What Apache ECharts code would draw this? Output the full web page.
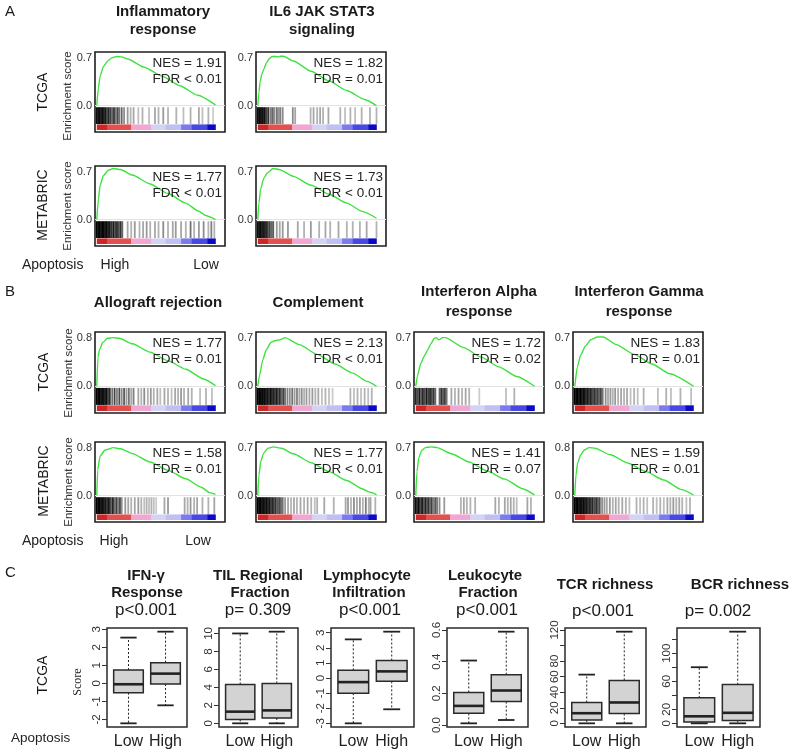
<!DOCTYPE html>
<html><head><meta charset="utf-8">
<script src="https://cdn.jsdelivr.net/npm/echarts@6/dist/echarts.min.js"></script>
<style>html,body{margin:0;padding:0;background:#fff}#c{width:800px;height:756px}</style>
</head><body><div id="c"></div><script>
// ================= DATA =================
// Running enrichment score curves: [rank (% of list), ES]
const ES_A_TCGA_INFLAM = [[0,0],[1.4,0.26],[2.8,0.43],[5.6,0.57],[9.7,0.66],[13,0.7],[16.7,0.715],[21,0.71],[26,0.68],[40,0.56],[55,0.43],[70,0.29],[85,0.15],[100,0.01]];
const ES_A_TCGA_IL6 = [[0,0],[1,0.2],[2,0.35],[3.5,0.46],[5,0.53],[7.5,0.63],[10,0.69],[12,0.715],[15,0.715],[17,0.71],[19,0.72],[21.5,0.72],[30,0.65],[45,0.5],[60,0.36],[75,0.22],[90,0.09],[100,0.0]];
const ES_A_MET_INFLAM = [[0,0],[1.4,0.3],[2.8,0.5],[5.5,0.64],[9.7,0.72],[14,0.745],[20,0.73],[30,0.65],[45,0.52],[60,0.38],[75,0.24],[85,0.13],[92,0.06],[96,0.035],[100,0.0]];
const ES_A_MET_IL6 = [[0,0],[1,0.25],[2.5,0.45],[5,0.6],[8,0.68],[13,0.745],[18,0.73],[30,0.63],[45,0.5],[60,0.37],[75,0.24],[88,0.12],[100,0.02]];
const ES_B_TCGA_ALLO = [[0,0],[1,0.48],[2.3,0.6],[5,0.72],[9,0.79],[13.5,0.8],[19,0.79],[30,0.7],[45,0.56],[60,0.42],[75,0.28],[90,0.12],[100,0.01]];
const ES_B_TCGA_COMP = [[0,0],[1.4,0.15],[4.2,0.38],[7,0.52],[11,0.63],[15,0.66],[19,0.67],[21,0.685],[23,0.7],[35,0.6],[50,0.46],[65,0.32],[80,0.19],[92,0.07],[100,0.0]];
const ES_B_TCGA_IFNA = [[0,0],[1.4,0.15],[4.2,0.33],[7,0.43],[9.9,0.52],[12.7,0.61],[15.5,0.69],[17,0.7],[19.7,0.67],[22.5,0.7],[25,0.7],[40,0.56],[55,0.42],[70,0.28],[85,0.14],[100,0.0]];
const ES_B_TCGA_IFNG = [[0,0],[2.2,0.28],[5,0.45],[9,0.58],[13.5,0.67],[19,0.71],[24,0.71],[35,0.6],[50,0.46],[65,0.32],[80,0.18],[100,0.0]];
const ES_B_MET_ALLO = [[0,0],[0.8,0.43],[2.8,0.66],[7,0.76],[14,0.8],[20,0.78],[30,0.7],[45,0.56],[60,0.42],[75,0.28],[88,0.14],[95,0.05],[100,0.02]];
const ES_B_MET_COMP = [[0,0],[1,0.3],[2.5,0.5],[5,0.62],[8.5,0.69],[13,0.71],[20,0.69],[30,0.61],[45,0.48],[60,0.35],[75,0.22],[88,0.1],[94,0.05],[97,0.04],[100,0.01]];
const ES_B_MET_IFNA = [[0,0],[1,0.35],[2.5,0.55],[5,0.66],[8,0.7],[13,0.71],[18,0.7],[30,0.61],[45,0.49],[60,0.36],[75,0.24],[90,0.1],[100,0.01]];
const ES_B_MET_IFNG = [[0,0],[1,0.35],[2.5,0.55],[5,0.68],[8,0.76],[12,0.8],[17,0.79],[30,0.68],[45,0.54],[60,0.4],[75,0.26],[90,0.1],[100,0.01]];

// Gene-set hits: [rank (%), darkness]
const HITS_A_TCGA_INFLAM = [[0,.95],[1.2,.9],[2.4,.95],[3.6,.85],[4.8,.95],[6,.8],[7.2,.9],[8.6,.7],[10,.85],[11.5,.75],[13,.6],[14.5,.8],[16,.5],[17.5,.7],[19,.55],[21,.6],[23,.45],[26,.4],[28.5,.3],[31,.35],[35,.25],[38.5,.3],[44,.25],[49,.35],[52,.3],[56,.4],[60,.3],[67,.3],[73,.25],[79,.3],[86,.35],[89,.25],[94,.3],[98,.2]];
const HITS_A_TCGA_IL6 = [[0,.95],[1.2,.95],[2.4,.9],[3.6,.95],[4.8,.85],[6,.9],[7.5,.75],[9,.8],[11,.5],[12.5,.6],[14,.45],[16,.55],[17.5,.4],[19,.5],[21,.45],[29.5,.45],[31.5,.35],[44.5,.3],[47,.35],[50,.3],[52.5,.35],[55,.3],[59.5,.35],[69.5,.3],[73.5,.25],[78,.3],[82,.25],[87.5,.3],[94.5,.3],[100,.3]];
const HITS_A_MET_INFLAM = [[0,1],[1.2,.95],[2.4,1],[3.6,.9],[4.8,1],[6,.95],[7.2,.9],[8.4,.95],[9.6,.85],[11,.9],[12.5,.8],[14,.9],[15.5,.75],[17,.85],[18.5,.7],[20,.8],[21.5,.6],[26,.35],[29,.3],[32,.4],[36,.3],[39,.35],[42,.4],[45,.3],[49,.35],[52,.3],[56,.45],[60,.3],[64,.35],[66.5,.4],[71,.35],[75,.3],[79,.55],[82,.3],[86,.4],[90,.45],[94,.3],[96.5,.5],[99,.3]];
const HITS_A_MET_IL6 = [[0,.95],[1.2,.9],[2.4,.95],[3.6,.85],[4.8,.9],[6,.8],[7.2,.85],[8.5,.7],[10,.75],[11.5,.6],[13,.65],[16,.4],[18.5,.35],[21,.4],[25.4,.4],[33.7,.35],[39,.3],[44.7,.4],[51.7,.3],[57,.35],[61,.3],[68,.35],[75,.3],[80,.3],[86,.3],[91.7,.35],[100,.3]];
const HITS_B_TCGA_ALLO = [[0,1],[1.2,.95],[2.4,1],[3.6,.9],[4.8,.95],[6,.9],[7.2,.85],[8.4,.95],[9.8,.7],[11,.8],[13,.55],[15,.75],[17,.5],[19,.7],[21,.45],[23,.65],[25,.4],[27,.55],[29,.35],[31,.5],[35,.35],[37.5,.3],[40,.45],[43,.3],[45.5,.4],[48,.3],[51,.35],[53.5,.25],[57,.35],[60,.3],[63,.25],[66,.35],[68.5,.3],[71,.4],[73.5,.3],[77,.35],[80,.3],[87,.25],[92,.3],[97,.25]];
const HITS_B_TCGA_COMP = [[0,1],[1.2,1],[2.4,.95],[3.6,1],[4.8,.9],[6,.95],[7.2,.85],[8.4,.9],[9.6,.8],[11,.95],[12.2,.75],[13.4,.85],[14.6,.7],[16,.9],[17.3,.65],[18.6,.8],[20,.6],[21.5,.75],[23,.55],[25,.5],[27,.45],[29,.55],[31,.4],[33,.5],[35,.35],[37,.45],[39,.3],[41,.4],[43.5,.35],[46,.4],[48.5,.3],[51,.35],[54,.25],[57,.3],[60,.25],[63,.2],[78,.3],[81,.25],[84,.3],[87,.25],[90,.3],[93,.25],[96,.3]];
const HITS_B_TCGA_IFNA = [[0,.85],[1.5,.7],[3,.9],[4.5,.65],[6,.85],[7.5,.7],[9,.9],[10.5,.75],[12,.85],[13.5,.7],[15,.8],[16.5,.6],[20,.6],[21.5,.8],[23,.65],[24.5,.75],[26,.55],[30,.35],[33,.3],[36,.35],[39,.3],[42,.35],[45,.3],[53.5,.2],[76,.25],[83,.3]];
const HITS_B_TCGA_IFNG = [[0,1],[1.2,.95],[2.4,1],[3.6,.9],[4.8,1],[6,.85],[7.2,.95],[8.4,.9],[9.6,.8],[11,.9],[12.3,.75],[13.6,.85],[15,.7],[16.4,.8],[17.8,.65],[19.2,.75],[20.6,.6],[22,.7],[23.5,.55],[26,.45],[28,.35],[30,.4],[32,.3],[34,.4],[36.5,.3],[39,.35],[41.5,.3],[44,.35],[47,.25],[50,.3],[53,.25],[58,.3],[70,.25],[77,.3],[81,.25],[89,.3],[98,.25]];
const HITS_B_MET_ALLO = [[0,1],[1.2,.95],[2.4,1],[3.6,.9],[4.8,.95],[6,.85],[7.2,.9],[8.4,.7],[9.6,.9],[11,.8],[12.3,.6],[13.6,.85],[15,.55],[16.5,.75],[18,.5],[19.5,.7],[21,.45],[24,.4],[26.5,.35],[29,.3],[32,.35],[35,.4],[37.5,.3],[40,.25],[42,.3],[44,.25],[46,.3],[48,.25],[50,.2],[57,.35],[60,.4],[74,.35],[76.5,.3],[79,.4],[82,.3],[84.5,.35],[89,.3],[94,.3],[99,.35]];
const HITS_B_MET_COMP = [[0,1],[1.2,.95],[2.4,1],[3.6,.9],[4.8,.95],[6,.85],[7.2,.95],[8.4,.8],[9.6,.9],[11,.75],[12.3,.85],[13.6,.7],[15,.8],[16.5,.65],[18,.7],[19.5,.6],[21,.55],[23,.4],[25.5,.35],[28,.3],[30.5,.35],[33,.3],[36,.35],[39,.3],[42,.35],[45,.3],[48,.25],[50,.3],[56,.35],[64,.3],[74,.35],[76,.4],[78.5,.3],[81,.45],[83.5,.35],[86,.4],[88.5,.3],[91,.5],[93.5,.3],[95,.35],[99,.3]];
const HITS_B_MET_IFNA = [[0,.95],[1.3,.8],[2.6,.95],[4,.7],[5.3,.9],[6.6,.65],[8,.85],[9.3,.6],[10.6,.8],[12,.55],[13.4,.75],[15,.5],[16.5,.65],[18,.5],[20,.45],[24,.4],[38,.3],[40.5,.35],[43,.3],[46,.3],[50,.3],[67,.35],[70,.3],[75,.35],[77.5,.3],[80,.35],[82.5,.3],[85,.25],[94,.35],[97,.3]];
const HITS_B_MET_IFNG = [[0,1],[1.2,.95],[2.4,1],[3.6,.9],[4.8,.95],[6,.9],[7.2,.95],[8.4,.85],[9.6,.9],[11,.8],[12.3,.85],[13.6,.75],[15,.85],[16.5,.7],[18,.8],[19.5,.65],[21,.7],[23,.45],[25,.4],[27,.35],[29.5,.4],[32,.3],[34.5,.35],[37,.3],[40,.35],[43,.3],[46,.25],[52,.3],[55,.25],[58,.3],[61,.25],[66,.3],[69,.25],[72,.3],[75,.25],[78,.35],[80.5,.3],[83,.4],[85.5,.3],[88,.35],[90.5,.3],[94,.25],[97,.3]];

// Ranked-list colour bar breaks (% of list)
const RANK_BREAKS = [0, 9, 29, 46, 58, 71, 80, 93, 100];

// Text values
const GSEA_TITLES_A = [['Inflammatory','response'], ['IL6 JAK STAT3','signaling']];
const GSEA_TITLES_B = [['Allograft rejection'], ['Complement'], ['Interferon Alpha','response'], ['Interferon Gamma','response']];
const NES_VALUES = ['1.91','1.82','1.77','1.73','1.77','2.13','1.72','1.83','1.58','1.77','1.41','1.59'];
const FDR_VALUES = ['< 0.01','= 0.01','< 0.01','< 0.01','= 0.01','< 0.01','= 0.02','= 0.01','= 0.01','< 0.01','= 0.07','= 0.01'];
const ES_TOP_TICK = [0.7,0.7,0.7,0.7,0.8,0.7,0.7,0.7,0.8,0.7,0.7,0.8];

// Panel C boxplots: [min, Q1, median, Q3, max] for Low, High
const BOX_CATEGORIES = ['Low','High'];
const BOX_TITLES = [['IFN-γ','Response'], ['TIL Regional','Fraction'], ['Lymphocyte','Infiltration'], ['Leukocyte','Fraction'], ['TCR richness'], ['BCR richness']];
const BOX_PVALUES = ['p<0.001','p= 0.309','p<0.001','p<0.001','p<0.001','p= 0.002'];
const BOX_IFNG  = [[-2.22,-0.52,-0.05,0.74,2.54],[-1.22,-0.04,0.54,1.15,2.87]];
const BOX_TIL   = [[0,0.44,1.3,4.33,10.0],[0,0.6,1.44,4.44,10.2]];
const BOX_LYMPH = [[-3.0,-1.0,-0.27,0.51,2.56],[-2.07,-0.22,0.44,1.16,3.07]];
const BOX_LEUK  = [[0.011,0.074,0.121,0.206,0.407],[0.032,0.148,0.218,0.318,0.589]];
const BOX_TCR   = [[0,4.3,13,26.8,62.6],[0,12.5,26.8,55.2,117.8]];
const BOX_BCR   = [[0,1.9,10,36.3,80],[0,4.2,15,55.2,130.7]];
const TICKS_IFNG = [-2,-1,0,1,2,3];
const TICKS_TIL = [0,2,4,6,8,10];
const TICKS_LYMPH = [-3,-2,-1,0,1,2,3];
const TICKS_LEUK = [0,0.2,0.4,0.6];
const TICKS_TCR = [0,20,40,60,80,100,120];
const LABELS_TCR = [0,20,40,60,80,120];
const TICKS_BCR = [0,20,40,60,80,100,120];
const LABELS_BCR = [0,20,60,100];

// ================= LAYOUT / STYLE =================
const FONT = '"Liberation Sans", Arial, sans-serif';
const RANK_COLORS = ['#cc2626','#e25050','#f1a7d3','#d3d3f6','#bfbff4','#7b7bee','#4848e2','#0a0ac6'];
const COL_X = [95, 256, 414, 573];
const COL_W = 130;
const ROWS = [{y:52,h:80},{y:166,h:80},{y:332,h:81},{y:442,h:80}];

const panels = [
  {es:ES_A_TCGA_INFLAM, hits:HITS_A_TCGA_INFLAM, c:0, r:0},
  {es:ES_A_TCGA_IL6,    hits:HITS_A_TCGA_IL6,    c:1, r:0},
  {es:ES_A_MET_INFLAM,  hits:HITS_A_MET_INFLAM,  c:0, r:1},
  {es:ES_A_MET_IL6,     hits:HITS_A_MET_IL6,     c:1, r:1},
  {es:ES_B_TCGA_ALLO, hits:HITS_B_TCGA_ALLO, c:0, r:2},
  {es:ES_B_TCGA_COMP, hits:HITS_B_TCGA_COMP, c:1, r:2},
  {es:ES_B_TCGA_IFNA, hits:HITS_B_TCGA_IFNA, c:2, r:2},
  {es:ES_B_TCGA_IFNG, hits:HITS_B_TCGA_IFNG, c:3, r:2},
  {es:ES_B_MET_ALLO, hits:HITS_B_MET_ALLO, c:0, r:3},
  {es:ES_B_MET_COMP, hits:HITS_B_MET_COMP, c:1, r:3},
  {es:ES_B_MET_IFNA, hits:HITS_B_MET_IFNA, c:2, r:3},
  {es:ES_B_MET_IFNG, hits:HITS_B_MET_IFNG, c:3, r:3}
];

const grids = [], xAxes = [], yAxes = [], series = [], graphics = [];

function txt(text, x, y, font, opts) {
  opts = opts || {};
  graphics.push({
    type: 'text', x: x, y: y, rotation: opts.rot || 0, z: 100,
    style: { text: text, font: font, fill: opts.color || '#1a1a1a',
      textAlign: opts.align || 'center', textVerticalAlign: 'middle' }
  });
}

const colorSegments = RANK_COLORS.map((c, i) => [RANK_BREAKS[i], RANK_BREAKS[i+1], i]);
const HIT_FR = [0.10, 0.31], BAR_FR = [0.025, 0.095], ZERO_FR = 0.33, TOP_FR = 0.93;

panels.forEach((p, i) => {
  const x = COL_X[p.c], row = ROWS[p.r];
  grids.push({left: x, top: row.y, width: COL_W, height: row.h, show: true,
    borderColor: '#1e1e1e', borderWidth: 1.6, backgroundColor: '#fff', containLabel: false});
  const lab = ES_TOP_TICK[i];
  const range = lab / (TOP_FR - ZERO_FR);
  const ymin = -ZERO_FR * range, ymax = ymin + range;
  xAxes.push({gridIndex: i, type: 'value', min: -1.5, max: 108, show: false});
  yAxes.push({gridIndex: i, type: 'value', min: ymin, max: ymax,
    axisLine: {show: false}, axisTick: {show: false}, splitLine: {show: false},
    axisLabel: {customValues: [0, lab], formatter: v => v.toFixed(1), fontSize: 11,
      color: '#333', margin: 3, fontFamily: FONT}});
  series.push({type: 'line', xAxisIndex: i, yAxisIndex: i, data: p.es, showSymbol: false,
    smooth: 0.2, smoothMonotone: 'x', z: 5, silent: true,
    lineStyle: {color: '#3ee23e', width: 1.4},
    markLine: {silent: true, symbol: 'none', label: {show: false}, animation: false,
      lineStyle: {color: '#e2e2e2', width: 1, type: 'solid'}, data: [{yAxis: 0}]}});
  series.push({type: 'custom', xAxisIndex: i, yAxisIndex: i, data: p.hits, silent: true, z: 4,
    encode: {x: 0, y: 1},
    renderItem: (params, api) => {
      const cs = params.coordSys;
      const hx = api.coord([api.value(0), 0])[0];
      return {type: 'line',
        shape: {x1: hx, y1: cs.y + cs.height * (1 - HIT_FR[1]), x2: hx, y2: cs.y + cs.height * (1 - HIT_FR[0])},
        style: {stroke: 'rgba(0,0,0,' + api.value(1) + ')', lineWidth: 1.8}};
    }});
  series.push({type: 'custom', xAxisIndex: i, yAxisIndex: i, data: colorSegments, silent: true, z: 4,
    encode: {x: [0, 1]},
    renderItem: (params, api) => {
      const cs = params.coordSys;
      const x0 = api.coord([api.value(0), 0])[0], x1 = api.coord([api.value(1), 0])[0];
      const y0 = cs.y + cs.height * (1 - BAR_FR[1]), y1 = cs.y + cs.height * (1 - BAR_FR[0]);
      return {type: 'rect', shape: {x: x0, y: y0, width: x1 - x0 + 0.3, height: y1 - y0},
        style: {fill: RANK_COLORS[api.value(2)]}};
    }});
  // NES / FDR
  const rx = x + COL_W - 3;
  txt('NES = ' + NES_VALUES[i], rx, row.y + 11.5, '13.5px ' + FONT, {align: 'right', color: '#222'});
  txt('FDR ' + FDR_VALUES[i], rx, row.y + 27.5, '13.5px ' + FONT, {align: 'right', color: '#222'});
});

// ---- Panel C boxplots ----
const BOX_LEFT = [107, 219, 331, 447, 565, 677];
const BOX_RIGHT = [187, 298, 414, 528, 646, 760];
const BOX_TOP = 628, BOX_H = 99;
const boxes = [
  {data: BOX_IFNG, ticks: TICKS_IFNG, labels: TICKS_IFNG, fmt: v => String(v)},
  {data: BOX_TIL, ticks: TICKS_TIL, labels: TICKS_TIL, fmt: v => String(v)},
  {data: BOX_LYMPH, ticks: TICKS_LYMPH, labels: TICKS_LYMPH, fmt: v => String(v)},
  {data: BOX_LEUK, ticks: TICKS_LEUK, labels: TICKS_LEUK, fmt: v => v.toFixed(1)},
  {data: BOX_TCR, ticks: TICKS_TCR, labels: LABELS_TCR, fmt: v => String(v)},
  {data: BOX_BCR, ticks: TICKS_BCR, labels: LABELS_BCR, fmt: v => String(v)}
];

boxes.forEach((b, k) => {
  const gi = grids.length;
  const lo = Math.min(...b.data.map(d => d[0])), hi = Math.max(...b.data.map(d => d[4]));
  const ext = (hi - lo) * 0.04;
  grids.push({left: BOX_LEFT[k], top: BOX_TOP, width: BOX_RIGHT[k] - BOX_LEFT[k], height: BOX_H,
    show: true, borderColor: '#2a2a2a', borderWidth: 1.5, backgroundColor: '#fff'});
  xAxes.push({gridIndex: gi, type: 'value', min: 0.42, max: 2.58,
    axisLine: {show: false}, axisTick: {show: false}, splitLine: {show: false},
    axisLabel: {customValues: [1, 2], formatter: v => BOX_CATEGORIES[Math.round(v) - 1],
      fontSize: 16, color: '#222', margin: 7, fontFamily: FONT}});
  yAxes.push({gridIndex: gi, type: 'value', min: lo - ext, max: hi + ext,
    axisLine: {show: false}, splitLine: {show: false},
    axisTick: {show: true, customValues: b.ticks, length: 5, lineStyle: {color: '#333', width: 1}},
    axisLabel: {customValues: b.labels, formatter: b.fmt, rotate: 90, fontSize: 11.5,
      color: '#333', margin: 4, fontFamily: FONT}});
  series.push({type: 'custom', xAxisIndex: gi, yAxisIndex: gi, silent: true, z: 5,
    data: b.data.map((d, j) => [j + 1].concat(d)),
    encode: {x: 0, y: [1, 2, 3, 4, 5]},
    renderItem: (params, api) => {
      const xv = api.value(0);
      const mn = api.value(1), q1 = api.value(2), md = api.value(3), q3 = api.value(4), mx = api.value(5);
      const c = (a, bb) => api.coord([a, bb]);
      const L = c(xv - 0.4, 0)[0], R = c(xv + 0.4, 0)[0], cx = c(xv, 0)[0];
      const cL = c(xv - 0.22, 0)[0], cR = c(xv + 0.22, 0)[0];
      const Y = v => c(xv, v)[1];
      const dash = {stroke: '#222', lineWidth: 1, lineDash: [2, 2]};
      const solid = {stroke: '#222', lineWidth: 1.8};
      return {type: 'group', children: [
        {type: 'line', shape: {x1: cx, y1: Y(q3), x2: cx, y2: Y(mx)}, style: dash},
        {type: 'line', shape: {x1: cx, y1: Y(q1), x2: cx, y2: Y(mn)}, style: dash},
        {type: 'line', shape: {x1: cL, y1: Y(mx), x2: cR, y2: Y(mx)}, style: solid},
        {type: 'line', shape: {x1: cL, y1: Y(mn), x2: cR, y2: Y(mn)}, style: solid},
        {type: 'rect', shape: {x: L, y: Y(q3), width: R - L, height: Y(q1) - Y(q3)},
          style: {fill: '#d3d3d3', stroke: '#2a2a2a', lineWidth: 1.5}},
        {type: 'line', shape: {x1: L, y1: Y(md), x2: R, y2: Y(md)}, style: {stroke: '#222', lineWidth: 2.6}}
      ]};
    }});
});

// ---- Text annotations ----
const F14 = '14px ' + FONT, FB15 = 'bold 15px ' + FONT;
txt('A', 5, 12, '15px ' + FONT, {align: 'left'});
txt('B', 5, 292, '15px ' + FONT, {align: 'left'});
txt('C', 5, 573, '15px ' + FONT, {align: 'left'});

const A_TITLE_POS = [[163, 12, 30], [322, 12, 30]];
GSEA_TITLES_A.forEach((t, i) => t.forEach((line, j) => txt(line, A_TITLE_POS[i][0], A_TITLE_POS[i][1 + j], FB15)));
const B_TITLE_X = [158, 318, 479, 639];
GSEA_TITLES_B.forEach((t, i) => {
  if (t.length === 1) txt(t[0], B_TITLE_X[i], 303, FB15);
  else t.forEach((line, j) => txt(line, B_TITLE_X[i], 292 + j * 20, FB15));
});

const ROT = Math.PI / 2;
txt('TCGA', 43, 92, F14, {rot: ROT});
txt('METABRIC', 43, 205, F14, {rot: ROT});
txt('TCGA', 44, 372, F14, {rot: ROT});
txt('METABRIC', 44, 481, F14, {rot: ROT});
txt('TCGA', 43, 675, F14, {rot: ROT});
const ENR = '11.5px ' + FONT;
[[68, 96], [68, 206], [69, 373], [69, 482]].forEach(p => txt('Enrichment score', p[0], p[1], ENR, {rot: ROT, color: '#333'}));

txt('Apoptosis', 22, 265, F14, {align: 'left', color: '#222'});
txt('High', 115, 265, F14, {color: '#222'});
txt('Low', 206, 265, F14, {color: '#222'});
txt('Apoptosis', 22, 541, F14, {align: 'left', color: '#222'});
txt('High', 114, 541, F14, {color: '#222'});
txt('Low', 198, 541, F14, {color: '#222'});
txt('Apoptosis', 11, 738, '13.5px ' + FONT, {align: 'left', color: '#222'});
txt('Score', 78, 682, '12px "Liberation Serif", "DejaVu Serif", serif', {rot: ROT, color: '#222'});

const C_TITLE_X = [[146, 147], [258, 260], [367, 369], [485, 488], [605], [740]];
BOX_TITLES.forEach((t, i) => {
  if (t.length === 1) txt(t[0], C_TITLE_X[i][0], 585, FB15);
  else t.forEach((line, j) => txt(line, C_TITLE_X[i][j], 576 + j * 17, FB15));
});
const P_X = [146, 258, 370, 487, 603, 718];
BOX_PVALUES.forEach((p, i) => txt(p, P_X[i], i >= 4 ? 611 : 610, '17px ' + FONT, {color: '#1a1a1a'}));

const chart = echarts.init(document.getElementById('c'), null, {renderer: 'canvas'});
chart.setOption({
  animation: false,
  backgroundColor: '#fff',
  textStyle: {fontFamily: FONT},
  grid: grids, xAxis: xAxes, yAxis: yAxes, series: series, graphic: graphics
});
</script></body></html>
